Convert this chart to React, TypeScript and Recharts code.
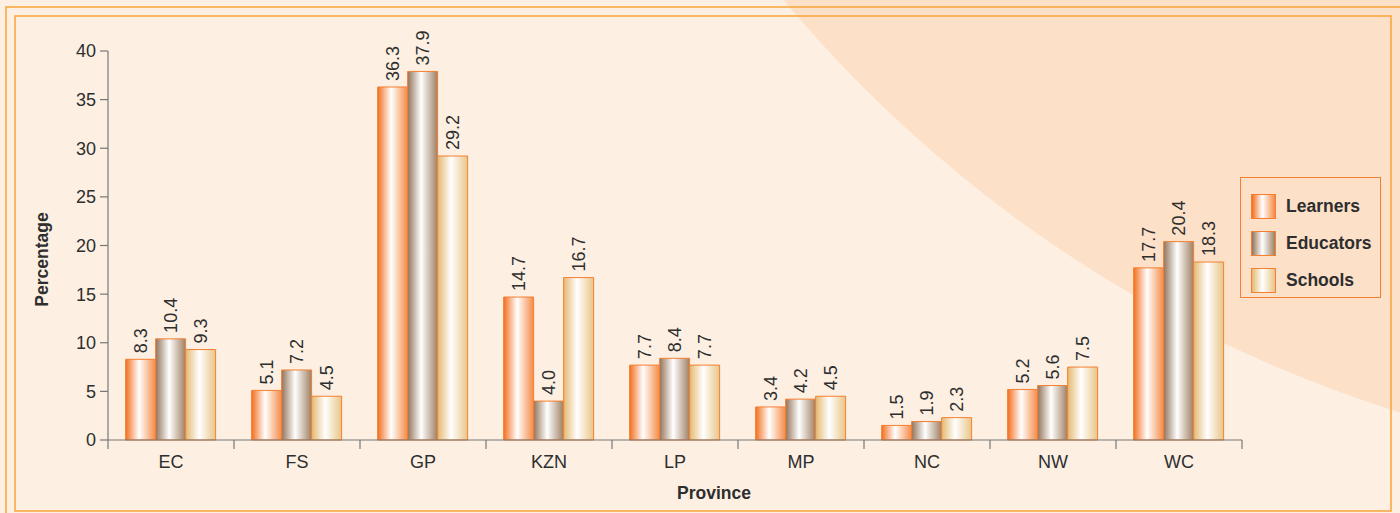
import { BarChart, Bar, XAxis, YAxis, LabelList } from 'recharts';

const provinces = ['EC', 'FS', 'GP', 'KZN', 'LP', 'MP', 'NC', 'NW', 'WC'];
const learners = [8.3, 5.1, 36.3, 14.7, 7.7, 3.4, 1.5, 5.2, 17.7];
const educators = [10.4, 7.2, 37.9, 4.0, 8.4, 4.2, 1.9, 5.6, 20.4];
const schools = [9.3, 4.5, 29.2, 16.7, 7.7, 4.5, 2.3, 7.5, 18.3];
const yTicks = [0, 5, 10, 15, 20, 25, 30, 35, 40];

const SERIES = [
  { key: 'Learners', grad: 'gLearners', stops: ['#f36f1f', '#ffffff', '#f58a45'] },
  { key: 'Educators', grad: 'gEducators', stops: ['#93745a', '#ffffff', '#9e8063'] },
  { key: 'Schools', grad: 'gSchools', stops: ['#e4b970', '#ffffff', '#e8c587'] },
];

const FONT = '"Liberation Sans", Arial, sans-serif';
const TEXT = '#2e2e2e';
const AXIS = '#777777';
const BAR_STROKE = '#f47f30';

const data = provinces.map((p, i) => ({
  province: p,
  Learners: learners[i],
  Educators: educators[i],
  Schools: schools[i],
}));

function ValueLabel(props: any) {
  const { x, y, width, value } = props;
  const cx = x + width / 2;
  const ty = y - 6;
  return (
    <text
      x={cx}
      y={ty}
      transform={`rotate(-90 ${cx} ${ty})`}
      dy="0.36em"
      textAnchor="start"
      fontSize={18}
      fontFamily={FONT}
      fill={TEXT}
    >
      {Number(value).toFixed(1)}
    </text>
  );
}

function ProvinceTick(props: any) {
  const { x, y, payload, index, visibleTicksCount, width } = props;
  const half = payload?.offset || (width && visibleTicksCount ? width / visibleTicksCount / 2 : 63);
  const last = index === visibleTicksCount - 1;
  return (
    <g>
      <line x1={x - half} y1={y - 8} x2={x - half} y2={y + 1} stroke={AXIS} strokeWidth={1.2} />
      {last && <line x1={x + half} y1={y - 8} x2={x + half} y2={y + 1} stroke={AXIS} strokeWidth={1.2} />}
      <text x={x} y={y + 20} textAnchor="middle" fontSize={18} fontFamily={FONT} fill={TEXT}>
        {payload.value}
      </text>
    </g>
  );
}

function LegendBox() {
  return (
    <div
      style={{
        position: 'absolute',
        left: 1240,
        top: 177,
        width: 141,
        height: 121,
        border: `1.5px solid ${BAR_STROKE}`,
        boxSizing: 'border-box',
        padding: '10px 0 0 10px',
        fontFamily: FONT,
      }}
    >
      {SERIES.map((s) => (
        <div key={s.key} style={{ display: 'flex', alignItems: 'center', height: 37 }}>
          <span
            style={{
              width: 25,
              height: 25,
              boxSizing: 'border-box',
              border: `1.5px solid ${BAR_STROKE}`,
              background: `linear-gradient(to right, ${s.stops[0]}, ${s.stops[1]} 45%, ${s.stops[2]})`,
              marginRight: 10,
            }}
          />
          <span style={{ fontSize: 17.5, fontWeight: 'bold', color: TEXT }}>{s.key}</span>
        </div>
      ))}
    </div>
  );
}

export default function App() {
  return (
    <div style={{ position: 'absolute', left: 0, top: 0, width: 1400, height: 513, overflow: 'hidden' }}>
      <svg width={1400} height={513} style={{ position: 'absolute', left: 0, top: 0 }}>
        <rect x={0} y={0} width={1400} height={513} fill="#fdf0e3" />
        <circle cx={1794} cy={-843} r={1316} fill="#fde0c8" />
        <rect x={6} y={7} width={1420} height={530} fill="none" stroke="#f9a23a" strokeWidth={1.5} />
        <rect x={15} y={16} width={1376} height={495} fill="none" stroke="#f9a23a" strokeWidth={1.5} />
      </svg>
      <div style={{ position: 'absolute', left: 0, top: 0 }}>
        <BarChart
          width={1400}
          height={513}
          data={data}
          margin={{ top: 51, right: 158, left: 0, bottom: 0 }}
          barCategoryGap="14%"
          barGap={0}
        >
          <defs>
            {SERIES.map((s) => (
              <linearGradient key={s.grad} id={s.grad} x1="0" y1="0" x2="1" y2="0">
                <stop offset="0%" stopColor={s.stops[0]} />
                <stop offset="45%" stopColor={s.stops[1]} />
                <stop offset="100%" stopColor={s.stops[2]} />
              </linearGradient>
            ))}
          </defs>
          <XAxis
            dataKey="province"
            height={73}
            axisLine={{ stroke: AXIS, strokeWidth: 1.2 }}
            tickLine={false}
            tick={<ProvinceTick />}
            interval={0}
            label={({ viewBox }: any) => (
              <text
                x={viewBox.x + viewBox.width / 2 + 39}
                y={viewBox.y + 59}
                textAnchor="middle"
                fontSize={17.5}
                fontWeight="bold"
                fontFamily={FONT}
                fill={TEXT}
              >
                Province
              </text>
            )}
          />
          <YAxis
            width={108}
            domain={[0, 40]}
            ticks={yTicks}
            interval={0}
            tickSize={8}
            tickMargin={4}
            axisLine={{ stroke: AXIS, strokeWidth: 1.2 }}
            tickLine={{ stroke: AXIS, strokeWidth: 1.2 }}
            tick={{ fontSize: 18, fontFamily: FONT, fill: TEXT }}
            label={({ viewBox }: any) => {
              const cy = viewBox.y + viewBox.height / 2 + 14;
              return (
                <text
                  x={48}
                  y={cy}
                  transform={`rotate(-90 48 ${cy})`}
                  textAnchor="middle"
                  fontSize={17.5}
                  fontWeight="bold"
                  fontFamily={FONT}
                  fill={TEXT}
                >
                  Percentage
                </text>
              );
            }}
          />
          {SERIES.map((s) => (
            <Bar
              key={s.key}
              dataKey={s.key}
              fill={`url(#${s.grad})`}
              stroke={BAR_STROKE}
              strokeWidth={1}
              isAnimationActive={false}
            >
              <LabelList dataKey={s.key} content={<ValueLabel />} />
            </Bar>
          ))}
        </BarChart>
      </div>
      <LegendBox />
    </div>
  );
}
